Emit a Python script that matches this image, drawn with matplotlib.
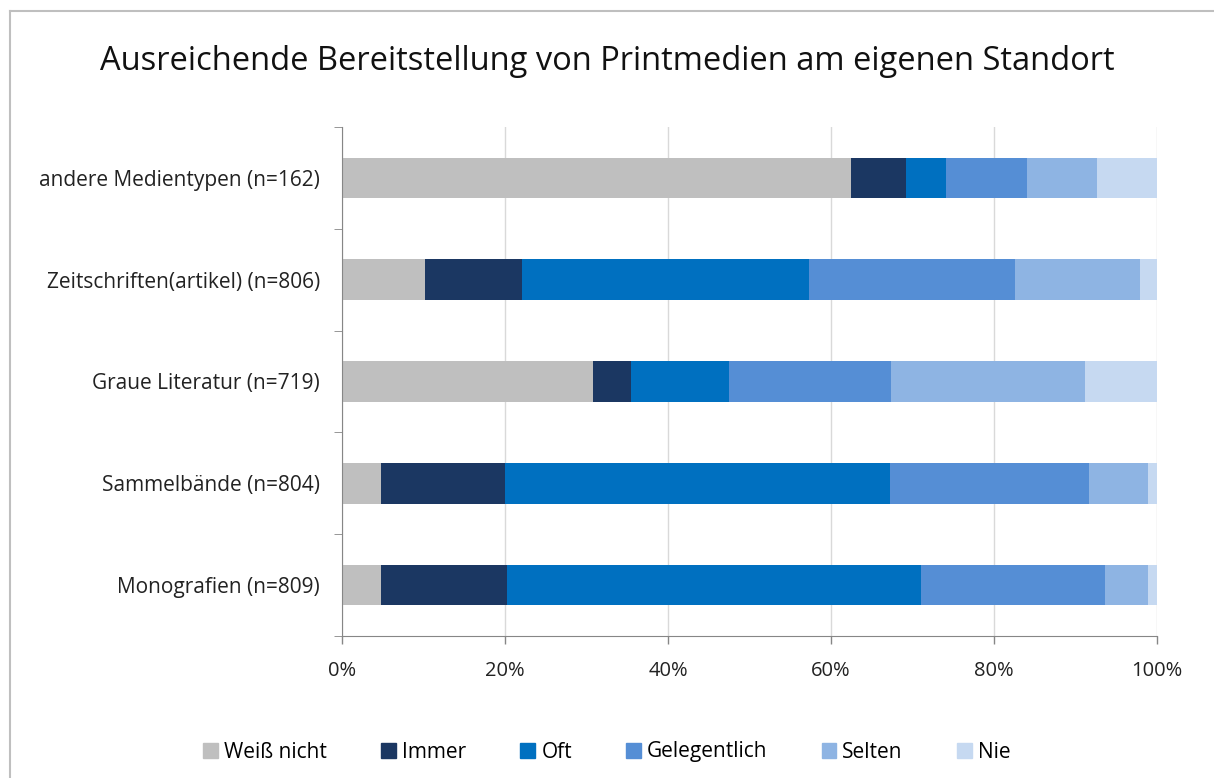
import matplotlib.pyplot as plt
import numpy as np
from matplotlib.lines import Line2D

# Data (percent), bottom-to-top order as drawn
categories = ["Monografien (n=809)", "Sammelbände (n=804)", "Graue Literatur (n=719)",
              "Zeitschriften(artikel) (n=806)", "andere Medientypen (n=162)"]
series = ["Weiß nicht", "Immer", "Oft", "Gelegentlich", "Selten", "Nie"]
colors = ["#BFBFBF", "#1B3762", "#0070C0", "#558ED5", "#8EB4E3", "#C6D9F1"]

weiss_nicht = [4.8, 4.8, 30.8, 10.2, 62.4]
immer = [15.4, 15.2, 4.6, 11.9, 6.8]
oft = [50.9, 47.2, 12.1, 35.2, 4.9]
gelegentlich = [22.5, 24.5, 19.9, 25.3, 9.9]
selten = [5.3, 7.2, 23.8, 15.3, 8.6]
nie = [1.1, 1.1, 8.8, 2.1, 7.4]

values = [weiss_nicht, immer, oft, gelegentlich, selten, nie]

plt.rcParams['font.family'] = ['Open Sans', 'DejaVu Sans']

fig = plt.figure(figsize=(12.14, 7.78), dpi=100)
ax = fig.add_axes([342 / 1214, 1 - 636 / 778, (1157 - 342) / 1214, (636 - 127) / 778])

y = np.arange(len(categories))
left = np.zeros(len(categories))
for name, vals, c in zip(series, values, colors):
    vals = np.array(vals)
    ax.barh(y, vals, left=left, height=0.4, color=c, label=name, zorder=2)
    left += vals

ax.set_xlim(0, 100)
ax.set_ylim(-0.5, 4.5)
ax.set_xticks(np.arange(0, 101, 20))
ax.set_xticklabels([f"{v}%" for v in range(0, 101, 20)], fontsize=14.5, color="#222222")
ax.set_yticks(y)
ax.set_yticklabels(categories, fontsize=15, color="#222222")
ax.tick_params(axis='y', length=0, pad=16)
ax.tick_params(axis='x', length=6, width=1, color="#868686", pad=12, direction='out')
ax.set_yticks(np.arange(-0.5, 4.6, 1), minor=True)
ax.tick_params(axis='y', which='minor', length=6, color="#868686")

ax.grid(axis='x', color="#D9D9D9", linewidth=1, zorder=0)
for s in ['top', 'right']:
    ax.spines[s].set_visible(False)
ax.spines['left'].set_color("#868686")
ax.spines['bottom'].set_color("#868686")

fig.text(0.5, 1 - 62 / 778, "Ausreichende Bereitstellung von Printmedien am eigenen Standort",
         ha='center', va='center', fontsize=23.5, color="#111111")

handles = [plt.Rectangle((0, 0), 1, 1, color=c) for c in colors]
fig.legend(handles, series, loc='center', bbox_to_anchor=(0.5, 1 - 752 / 778), ncol=6,
           frameon=False, fontsize=15, handlelength=0.7, handleheight=0.7,
           handletextpad=0.3, columnspacing=2.6)

# chart area border (top and left edges visible)
fig.add_artist(Line2D([10 / 1214, 1], [1 - 11 / 778, 1 - 11 / 778], color="#BFBFBF", linewidth=1.5))
fig.add_artist(Line2D([10 / 1214, 10 / 1214], [0, 1 - 11 / 778], color="#BFBFBF", linewidth=1.5))

plt.savefig("out.png", dpi=100)
